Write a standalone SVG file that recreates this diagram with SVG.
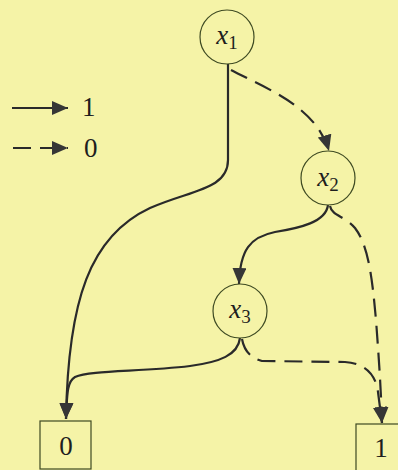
<svg xmlns="http://www.w3.org/2000/svg" width="398" height="470" viewBox="0 0 398 470">
<style>
.bg{fill:#f5f3a7}
.node{fill:#f5f3a7;stroke:#3e4a22;stroke-width:1.2}
.e1{fill:none;stroke:#2a2a2a;stroke-width:2.2}
.e0{fill:none;stroke:#2a2a2a;stroke-width:2.2;stroke-dasharray:18 9}
</style>
<defs>
<marker id="arr" markerUnits="userSpaceOnUse" markerWidth="18" markerHeight="14" refX="16" refY="7" orient="auto" viewBox="0 0 18 14">
<path d="M0,0 L16,7 L0,14 Z" fill="#363636"/>
</marker>
</defs>
<rect class="bg" x="0" y="0" width="398" height="470"/>
<g id="legend" font-family="Liberation Serif, serif" font-size="27" fill="#1e1e1e">
<path class="e1" d="M12,108 L68,108" marker-end="url(#arr)"/>
<text x="82" y="116">1</text>
<path class="e0" d="M13,148 L68,148" marker-end="url(#arr)"/>
<text x="84" y="157">0</text>
</g>
<g id="connectors">
<path class="e0" d="M231,70 C265,88 316,106 329,151" marker-end="url(#arr)"/>
<path class="e1" d="M228,64 L228,160 C228,190 190,190 150,208 C90,236 68,300 66,419" marker-end="url(#arr)"/>
<path class="e1" d="M328,205 C326,222 300,228 275,232 C250,237 240,250 239,284" marker-end="url(#arr)"/>
<path class="e0" d="M330,206 C332,216 345,216 355,228 C368,245 372,275 376,320 C379,360 381,390 382,423" marker-end="url(#arr)"/>
<path class="e1" d="M240,338 C238,355 220,362 190,366 C140,372 90,370 75,377 C68,381 67,390 66,419" marker-end="url(#arr)"/>
<path class="e0" d="M242,339 C244,350 250,358 262,361 L345,362 C365,363 376,375 378,392 L382,423" marker-end="url(#arr)"/>
</g>
<g id="x1" font-family="Liberation Serif, serif" font-size="27" fill="#1e1e1e">
<circle class="node" cx="227" cy="37" r="27"/>
<text x="227" y="44" text-anchor="middle"><tspan font-style="italic">x</tspan><tspan font-size="19" dy="5">1</tspan></text>
</g>
<g id="x2" font-family="Liberation Serif, serif" font-size="27" fill="#1e1e1e">
<circle class="node" cx="328" cy="178" r="27"/>
<text x="328" y="186" text-anchor="middle"><tspan font-style="italic">x</tspan><tspan font-size="19" dy="5">2</tspan></text>
</g>
<g id="x3" font-family="Liberation Serif, serif" font-size="27" fill="#1e1e1e">
<circle class="node" cx="240" cy="311" r="27"/>
<text x="240" y="318" text-anchor="middle"><tspan font-style="italic">x</tspan><tspan font-size="19" dy="5">3</tspan></text>
</g>
<g id="t0" font-family="Liberation Serif, serif" font-size="27" fill="#1e1e1e">
<rect class="node" x="40" y="421" width="51" height="48"/>
<text x="66" y="455" text-anchor="middle">0</text>
</g>
<g id="t1" font-family="Liberation Serif, serif" font-size="27" fill="#1e1e1e">
<rect class="node" x="356" y="424" width="51" height="48"/>
<text x="381" y="457" text-anchor="middle">1</text>
</g>
</svg>
